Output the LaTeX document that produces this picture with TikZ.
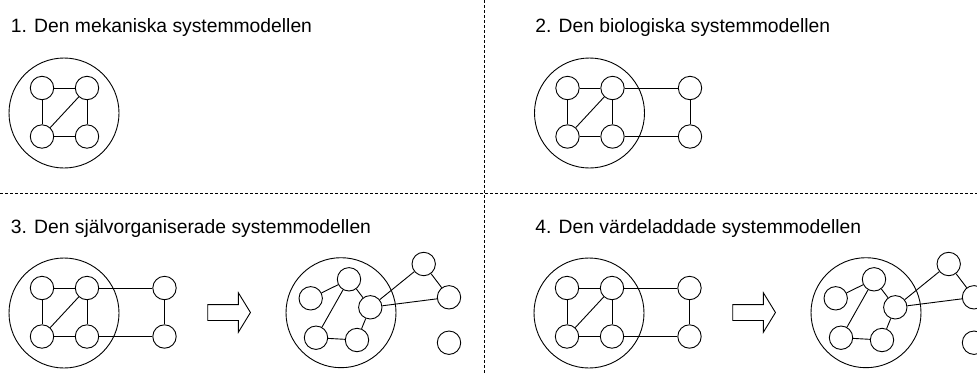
\documentclass[tikz,border=0pt]{standalone}
\usepackage{fontspec}
\setmainfont{Liberation Sans}
\usetikzlibrary{shapes.arrows}

\tikzset{
  every picture/.style={x=1pt, y=-1pt, line width=0.9pt},
  unit/.style={circle, draw, minimum size=23.4pt, inner sep=0pt},
  border/.style={circle, draw, minimum size=110pt, inner sep=0pt},
  link/.style={draw},
  divider/.style={draw, dash pattern=on 3pt off 2pt, line width=0.8pt},
  heading/.style={anchor=base west, inner sep=0pt, font=\fontsize{19.3}{23}\selectfont},
  shift arrow/.style={single arrow, draw, anchor=west, minimum height=42.7pt,
    single arrow head extend=11.7pt, single arrow tip angle=117,
    inner xsep=0pt, inner ysep=7.5pt},
  % closed system: four parts inside the boundary
  pics/mechanical/.style={code={
    \node[border] (-o) at (0,0) {};
    \node[unit] (-a) at (-22,-25) {};
    \node[unit] (-b) at (23,-25) {};
    \node[unit] (-c) at (-22,23.5) {};
    \node[unit] (-d) at (23,23.5) {};
    \draw[link] (-a) -- (-b);
    \draw[link] (-c) -- (-d);
    \draw[link] (-a) -- (-c);
    \draw[link] (-b) -- (-d);
    \draw[link] (-b) -- (-c);
  }},
  % open system: two parts outside the boundary
  pics/biological/.style={code={
    \node[border] (-o) at (0,0) {};
    \node[unit] (-a) at (-22,-25) {};
    \node[unit] (-b) at (23,-25) {};
    \node[unit] (-e) at (100.5,-25) {};
    \node[unit] (-c) at (-22,23.5) {};
    \node[unit] (-d) at (23,23.5) {};
    \node[unit] (-f) at (100.5,23.5) {};
    \draw[link] (-a) -- (-b);
    \draw[link] (-b) -- (-e);
    \draw[link] (-e) -- (-f);
    \draw[link] (-c) -- (-d);
    \draw[link] (-d) -- (-f);
    \draw[link] (-a) -- (-c);
    \draw[link] (-b) -- (-d);
    \draw[link] (-b) -- (-c);
  }},
  % reorganised network with a loose part
  pics/network/.style={code={
    \node[border] (-o) at (0,0) {};
    \node[unit] (-a) at (-30.3,-14.4) {};
    \node[unit] (-b) at (8,-33.4) {};
    \node[unit] (-c) at (29.3,-5.4) {};
    \node[unit] (-d) at (-25,25) {};
    \node[unit] (-e) at (16,27.3) {};
    \node[unit] (-f) at (82.7,-48.7) {};
    \node[unit] (-g) at (108,-15.4) {};
    \node[unit] (-h) at (108,30) {};
    \draw[link] (-a) -- (-b);
    \draw[link] (-b) -- (-c);
    \draw[link] (-b) -- (-d);
    \draw[link] (-d) -- (-e);
    \draw[link] (-e) -- (-c);
    \draw[link] (-c) -- (-f);
    \draw[link] (-c) -- (-g);
    \draw[link] (-f) -- (-g);
  }},
}

\begin{document}
\begin{tikzpicture}
\useasboundingbox (0,0) rectangle (977,373);

% quadrant dividers
\coordinate (hl) at (0,193.3);
\coordinate (hr) at (977,193.3);
\coordinate (vt) at (484.3,0);
\coordinate (vb) at (484.3,373);
\draw[divider] (hl) -- (hr);
\draw[divider] (vt) -- (vb);

% headings
\node[heading] (t1) at (10.5,32.3) {1. Den mekaniska systemmodellen};
\node[heading] (t2) at (535,32.3) {2. Den biologiska systemmodellen};
\node[heading] (t3) at (10.5,233.3) {3. Den självorganiserade systemmodellen};
\node[heading] (t4) at (535,233.3) {4. Den värdeladdade systemmodellen};

% 1
\pic (m1) at (64,113) {mechanical};
% 2
\pic (b2) at (589.5,113) {biological};
% 3
\pic (b3) at (64,313) {biological};
\node[shift arrow] (ar3) at (207.3,312.5) {};
\pic (n3) at (341,312.7) {network};
% 4
\pic (b4) at (589,313) {biological};
\node[shift arrow] (ar4) at (732.3,312.5) {};
\pic (n4) at (866,312.7) {network};
\end{tikzpicture}
\end{document}
